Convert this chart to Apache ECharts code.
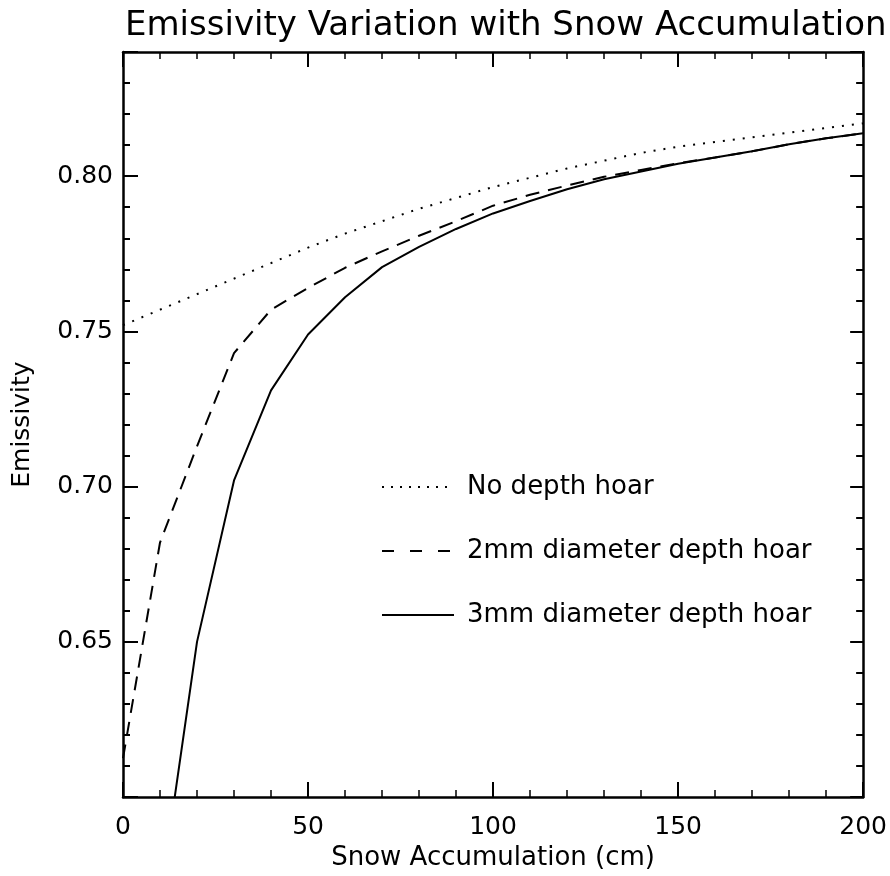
<!DOCTYPE html>
<html>
<head>
<meta charset="utf-8">
<script src="https://cdn.jsdelivr.net/npm/echarts@6/dist/echarts.min.js"></script>
<style>
  html, body { margin: 0; padding: 0; background: #fff; }
  #chart { width: 890px; height: 876px; }
</style>
</head>
<body>
<div id="chart"></div>
<script>
// Snow accumulation (cm) at which emissivity was evaluated
const snowDepth = [0, 10, 20, 30, 40, 50, 60, 70, 80, 90, 100, 110, 120, 130, 140, 150, 160, 170, 180, 190, 200];

// Emissivity, snow pack without depth hoar
const noHoar = [0.752, 0.757, 0.762, 0.767, 0.772, 0.777, 0.7815, 0.7855, 0.7895, 0.793, 0.7965,
                0.7995, 0.8025, 0.805, 0.8075, 0.8095, 0.811, 0.8125, 0.814, 0.8155, 0.817];

// Emissivity with a 2 mm diameter depth hoar layer
const hoar2mm = [0.6125, 0.682, 0.713, 0.743, 0.757, 0.764, 0.7705, 0.7758, 0.7808, 0.7855, 0.7905,
                 0.794, 0.797, 0.7998, 0.802, 0.8042, 0.806, 0.808, 0.8103, 0.8122, 0.8138];

// Emissivity with a 3 mm diameter depth hoar layer
const hoar3mm = [null, 0.567, 0.650, 0.702, 0.731, 0.749, 0.761, 0.7707, 0.7772, 0.783, 0.788,
                 0.792, 0.7958, 0.799, 0.8015, 0.804, 0.806, 0.808, 0.8103, 0.8122, 0.8138];

// Axis ticks
const xMajorTicks = [0, 50, 100, 150, 200];
const yLabelTicks = [0.65, 0.70, 0.75, 0.80];

const seriesNames = ['No depth hoar', '2mm diameter depth hoar', '3mm diameter depth hoar'];

const FONT = 'DejaVu Sans';
const INK = '#000';

function pairs(values) {
  return snowDepth.map((x, i) => [x, values[i]]);
}

function xAxisDef(position, showLabels) {
  return {
    type: 'value', gridIndex: 0, position: position,
    min: 0, max: 200, interval: 50,
    axisLine: { show: true, onZero: false, lineStyle: { color: INK, width: 2.5 } },
    axisTick: { show: true, inside: true, length: 15, lineStyle: { color: INK, width: 2 } },
    minorTick: { show: true, splitNumber: 5, length: 7, lineStyle: { color: INK, width: 1.5 } },
    splitLine: { show: false },
    minorSplitLine: { show: false },
    axisLabel: {
      show: showLabels, color: INK, fontFamily: FONT, fontSize: 25, margin: 18,
      formatter: v => xMajorTicks.includes(v) ? String(v) : ''
    },
    name: showLabels ? 'Snow Accumulation (cm)' : '',
    nameLocation: 'middle', nameGap: 46,
    nameTextStyle: { color: INK, fontFamily: FONT, fontSize: 26 }
  };
}

function yAxisDef(position, step, tickLen, showLine, showLabels) {
  return {
    type: 'value', gridIndex: 0, position: position,
    min: 0.60, max: 0.84, interval: step,
    axisLine: { show: showLine, onZero: false, lineStyle: { color: INK, width: 2.5 } },
    axisTick: { show: true, inside: true, length: tickLen, lineStyle: { color: INK, width: 2 } },
    splitLine: { show: false },
    axisLabel: {
      show: showLabels, color: INK, fontFamily: FONT, fontSize: 25, margin: 10,
      formatter: v => yLabelTicks.some(t => Math.abs(t - v) < 1e-6) ? v.toFixed(2) : ''
    },
    name: showLabels ? 'Emissivity' : '',
    nameLocation: 'middle', nameRotate: 90, nameGap: 88,
    nameTextStyle: { color: INK, fontFamily: FONT, fontSize: 25 }
  };
}

const chart = echarts.init(document.getElementById('chart'), null, { renderer: 'canvas' });

chart.setOption({
  animation: false,
  backgroundColor: '#fff',
  title: {
    text: 'Emissivity Variation with Snow Accumulation',
    left: 120, top: 4,
    textStyle: { color: INK, fontFamily: FONT, fontSize: 34, fontWeight: 'normal' }
  },
  grid: { left: 123, right: 25, top: 52, bottom: 78, containLabel: false },
  xAxis: [xAxisDef('bottom', true), xAxisDef('top', false)],
  yAxis: [
    yAxisDef('left', 0.05, 15, true, true),
    yAxisDef('left', 0.01, 7, false, false),
    yAxisDef('right', 0.05, 13, true, false),
    yAxisDef('right', 0.01, 7, false, false)
  ],
  legend: {
    orient: 'vertical', left: 376, top: 469,
    itemWidth: 72, itemHeight: 14, itemGap: 38,
    selectedMode: false,
    itemStyle: { opacity: 0, color: 'transparent', borderWidth: 0 },
    textStyle: { color: INK, fontFamily: FONT, fontSize: 26, padding: [0, 0, 0, 8] },
    data: [
      { name: seriesNames[0], lineStyle: { type: [2, 7], width: 2, color: INK } },
      { name: seriesNames[1], lineStyle: { type: [12, 16], width: 2, color: INK } },
      { name: seriesNames[2], lineStyle: { type: 'solid', width: 2, color: INK } }
    ]
  },
  series: [
    {
      name: seriesNames[0], type: 'line', data: pairs(noHoar),
      xAxisIndex: 0, yAxisIndex: 0, symbol: 'none', clip: true,
      lineStyle: { color: INK, width: 2, type: [2, 8] }, itemStyle: { color: INK }
    },
    {
      name: seriesNames[1], type: 'line', data: pairs(hoar2mm),
      xAxisIndex: 0, yAxisIndex: 0, symbol: 'none', clip: true,
      lineStyle: { color: INK, width: 2, type: [14, 9] }, itemStyle: { color: INK }
    },
    {
      name: seriesNames[2], type: 'line', data: pairs(hoar3mm),
      xAxisIndex: 0, yAxisIndex: 0, symbol: 'none', clip: true,
      lineStyle: { color: INK, width: 2, type: 'solid' }, itemStyle: { color: INK }
    }
  ]
});
</script>
</body>
</html>
